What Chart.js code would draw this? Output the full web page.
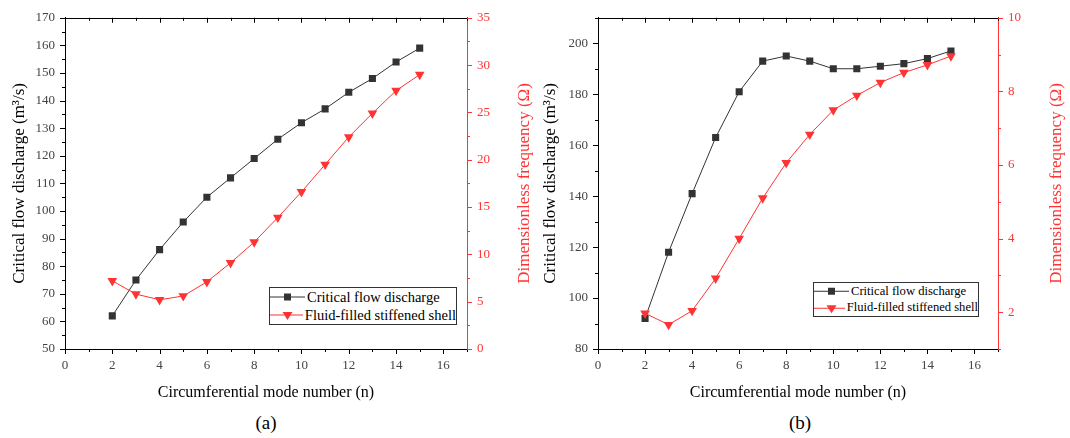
<!DOCTYPE html>
<html lang="en">
<head>
<meta charset="UTF-8">
<title>Critical flow discharge vs circumferential mode number</title>
<script src="https://cdn.jsdelivr.net/npm/chart.js"></script>
<style>
  body { margin: 0; background: #fff; font-family: 'Liberation Serif', 'Times New Roman', serif; }
  .wrap { position: relative; width: 1070px; height: 438px; }
  .panel { position: absolute; top: 0; width: 535px; height: 410px; }
  .legend { position: absolute; border: 1px solid #333; background: #fff; box-sizing: border-box; padding: 0; color: #000; }
  .legend .row { display: flex; align-items: center; white-space: nowrap; }
  .legend svg { margin-right: 2px; }
  .caption { position: absolute; top: 412px; width: 100px; text-align: center; font-size: 19px; }
</style>
</head>
<body>
<div class="wrap">
  <div class="panel" style="left:0"><canvas id="chartA" width="535" height="410"></canvas></div>
  <div class="panel" style="left:535px"><canvas id="chartB" width="535" height="410"></canvas></div>
  <div class="legend" id="legendA" style="left:269px; top:287px; width:188px; height:38px; font-size:14.5px;"></div>
  <div class="legend" id="legendB" style="left:813px; top:282px; width:166px; height:35px; font-size:12.6px;"></div>
  <div class="caption" style="left:216px">(a)</div>
  <div class="caption" style="left:750px">(b)</div>
</div>

<script>
  // mode numbers n
  const modes = [2, 3, 4, 5, 6, 7, 8, 9, 10, 11, 12, 13, 14, 15];

  // panel (a)
  const flowA = [62, 75, 86, 96, 105, 112, 119, 126, 132, 137, 143, 148, 154, 159];
  const freqA = [7.2, 5.8, 5.2, 5.6, 7.1, 9.1, 11.3, 13.9, 16.6, 19.5, 22.4, 24.9, 27.3, 29.0];

  // panel (b)
  const flowB = [92, 118, 141, 163, 181, 193, 195, 193, 190, 190, 191, 192, 194, 197];
  const freqB = [1.97, 1.66, 2.04, 2.92, 4.0, 5.1, 6.06, 6.83, 7.49, 7.89, 8.24, 8.51, 8.72, 8.96];

  const seriesNames = ['Critical flow discharge', 'Fluid-filled stiffened shell'];
  const xTicks = [0, 2, 4, 6, 8, 10, 12, 14, 16];
  const yTicksA = [50, 60, 70, 80, 90, 100, 110, 120, 130, 140, 150, 160, 170];
  const y2TicksA = [0, 5, 10, 15, 20, 25, 30, 35];
  const yTicksB = [80, 100, 120, 140, 160, 180, 200];
  const y2TicksB = [2, 4, 6, 8, 10];
  const y2Title = 'Dimensionless frequency (Ω)';

  const BLACK = '#333';
  const RED = '#ff3333';
  const SERIF = "'Liberation Serif', 'Times New Roman', serif";

  // top frame line, major/minor tick marks on all four sides, and the right title (reads bottom-up)
  const frameTicks = {
    id: 'frameTicks',
    afterDraw(chart, args, opts) {
      const { ctx, chartArea: a, scales } = chart;
      ctx.save();
      ctx.lineWidth = 1;
      function seg(x1, y1, x2, y2) {
        ctx.beginPath(); ctx.moveTo(x1, y1); ctx.lineTo(x2, y2); ctx.stroke();
      }
      ctx.strokeStyle = '#000';
      seg(a.left, Math.round(a.top) + 0.5, a.right, Math.round(a.top) + 0.5);

      function walk(scale, step, cb) {
        const majors = scale.ticks.map(t => t.value);
        const n = Math.round((scale.max - scale.min) / step);
        for (let i = 0; i <= n; i++) {
          const v = scale.min + i * step;
          const major = majors.some(m => Math.abs(m - v) < 1e-6);
          cb(Math.round(scale.getPixelForValue(v)) + 0.5, major ? 5 : 3);
        }
      }
      walk(scales.x, 1, (p, len) => {
        seg(p, a.bottom, p, a.bottom + len);
        seg(p, a.top, p, a.top + len);
      });
      walk(scales.y, opts.yMinor, (p, len) => seg(a.left, p, a.left - len, p));
      ctx.strokeStyle = RED;
      walk(scales.y2, opts.y2Minor, (p, len) => seg(a.right, p, a.right + len, p));

      ctx.translate(opts.titleX, (a.top + a.bottom) / 2);
      ctx.rotate(-Math.PI / 2);
      ctx.fillStyle = RED;
      ctx.font = '17px ' + SERIF;
      ctx.textAlign = 'center';
      ctx.textBaseline = 'middle';
      ctx.fillText(y2Title, 0, 0);
      ctx.restore();
    }
  };

  function toPoints(values) {
    return modes.map((n, i) => ({ x: n, y: values[i] }));
  }

  function fixTicks(values) {
    return scale => { scale.ticks = values.map(v => ({ value: v })); };
  }

  function createChart(canvasId, p) {
    new Chart(document.getElementById(canvasId), {
      type: 'line',
      data: {
        datasets: [
          {
            label: seriesNames[0], data: toPoints(p.flow), yAxisID: 'y', order: 1,
            borderColor: BLACK, backgroundColor: BLACK, borderWidth: 1,
            pointStyle: 'rect', pointRadius: 5, pointBorderWidth: 0
          },
          {
            label: seriesNames[1], data: toPoints(p.freq), yAxisID: 'y2', order: 0,
            borderColor: RED, backgroundColor: RED, borderWidth: 1,
            pointStyle: 'triangle', rotation: 180, pointRadius: 5.6, pointBorderWidth: 0
          }
        ]
      },
      options: {
        responsive: false,
        animation: false,
        layout: { padding: { top: p.top, left: 0, right: 0, bottom: 0 } },
        plugins: {
          legend: { display: false },
          tooltip: { enabled: false },
          frameTicks: { yMinor: p.yMinor, y2Minor: p.y2Minor, titleX: p.y2TitleX }
        },
        scales: {
          x: {
            type: 'linear', min: 0, max: 17,
            afterBuildTicks: fixTicks(xTicks),
            afterFit: s => { s.height = p.xH; },
            grid: { display: false, drawTicks: false },
            border: { color: '#000', width: 1 },
            ticks: { color: '#444', padding: 9, font: { family: SERIF, size: 13 } },
            title: { display: true, text: 'Circumferential mode number (n)', color: '#000',
                     font: { family: SERIF, size: 16 }, padding: { top: 0, bottom: 8 } }
          },
          y: {
            position: 'left', min: p.yMin, max: p.yMax,
            afterBuildTicks: fixTicks(p.yTicks),
            afterFit: s => { s.width = p.yW; },
            grid: { display: false, drawTicks: false },
            border: { color: '#000', width: 1 },
            ticks: { color: '#444', padding: 10, font: { family: SERIF, size: 13 } },
            title: { display: true, text: 'Critical flow discharge (m³/s)', color: '#000',
                     font: { family: SERIF, size: 17 }, padding: { top: p.yTitlePad, bottom: 0 } }
          },
          y2: {
            position: 'right', min: p.y2Min, max: p.y2Max,
            afterBuildTicks: fixTicks(p.y2Ticks),
            afterFit: s => { s.width = p.y2W; },
            grid: { display: false, drawTicks: false },
            border: { color: RED, width: 1 },
            ticks: { color: RED, padding: 10, font: { family: SERIF, size: 13 } },
            title: { display: false }
          }
        }
      },
      plugins: [frameTicks]
    });
  }

  function buildLegend(id, rowH, lineW) {
    const box = document.getElementById(id);
    const m = lineW / 2;
    const styles = [
      { color: BLACK, marker: '<rect x="' + (m - 3.5) + '" y="' + (rowH / 2 - 3.5) + '" width="7" height="7" fill="' + BLACK + '"/>' },
      { color: RED, marker: '<polygon points="' + (m - 5) + ',' + (rowH / 2 - 3) + ' ' + (m + 5) + ',' + (rowH / 2 - 3) + ' ' + m + ',' + (rowH / 2 + 5) + '" fill="' + RED + '"/>' }
    ];
    seriesNames.forEach((name, i) => {
      const row = document.createElement('div');
      row.className = 'row';
      row.style.height = rowH + 'px';
      row.innerHTML = '<svg width="' + lineW + '" height="' + rowH + '"><line x1="0" x2="' + lineW + '" y1="' + (rowH / 2) + '" y2="' + (rowH / 2) +
        '" stroke="' + styles[i].color + '" stroke-width="1"/>' + styles[i].marker + '</svg><span>' + name + '</span>';
      box.appendChild(row);
    });
  }

  createChart('chartA', {
    flow: flowA, freq: freqA, top: 14, xH: 61, yW: 65, y2W: 68, yTitlePad: 9, y2TitleX: 524.5,
    yMin: 50, yMax: 170, yTicks: yTicksA, yMinor: 5,
    y2Min: 0, y2Max: 35, y2Ticks: y2TicksA, y2Minor: 2.5
  });
  createChart('chartB', {
    flow: flowB, freq: freqB, top: 16, xH: 61, yW: 63, y2W: 72, yTitlePad: 5, y2TitleX: 522,
    yMin: 80, yMax: 210, yTicks: yTicksB, yMinor: 10,
    y2Min: 1, y2Max: 10, y2Ticks: y2TicksB, y2Minor: 1
  });
  buildLegend('legendA', 18, 35);
  buildLegend('legendB', 16.5, 35);
</script>
</body>
</html>
